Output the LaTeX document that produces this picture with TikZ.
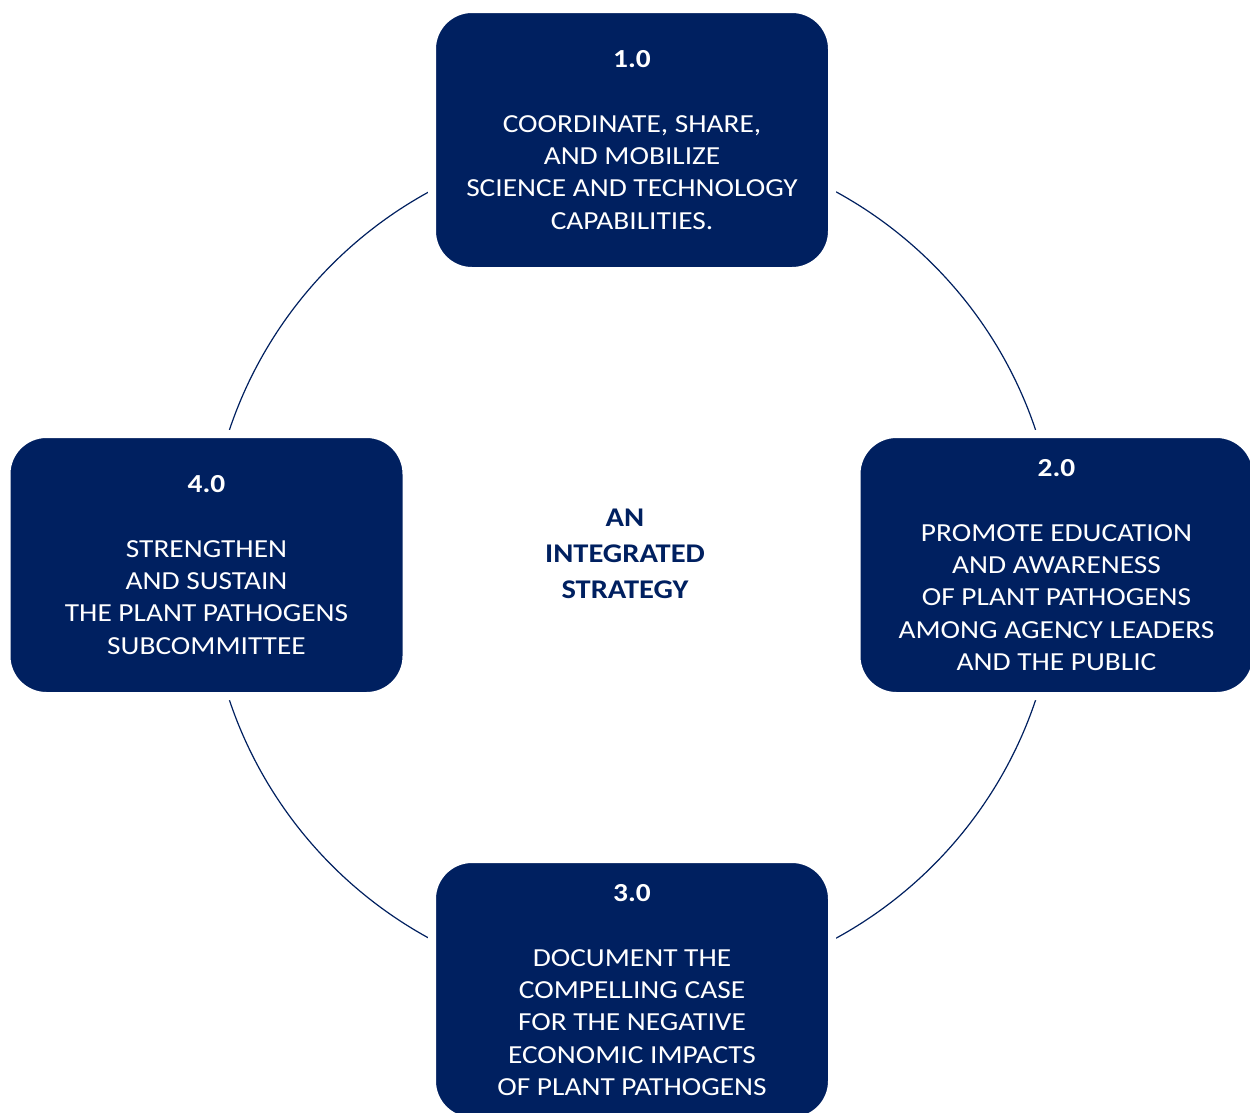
\documentclass[tikz,border=0pt]{standalone}
\usepackage{fontspec}
\setmainfont{Carlito}[FakeStretch=1.13]
\definecolor{navy}{RGB}{0,32,96}
\tikzset{
  goalbox/.style={rectangle, rounded corners=40pt, fill=navy, draw=white, line width=8pt,
    minimum width=400pt, minimum height=262pt, text=white, align=center, inner sep=0pt,
    font=\fontsize{26}{32.3}\selectfont},
  ring/.style={draw=navy, line width=1.2pt},
  centre/.style={text=navy, align=center, font=\bfseries\fontsize{27}{36}\selectfont}
}
\begin{document}
\begin{tikzpicture}[x=1pt,y=-1pt]
\clip (0,0) rectangle (1250,1112);
\fill[white] (0,0) rectangle (1250,1112);
\coordinate (c) at (632.5,565);
\draw[ring] (c) circle[radius=425pt];
\node[goalbox] (b1) at (632,140) {\textbf{1.0}\\[32.3pt]COORDINATE, SHARE,\\AND MOBILIZE\\SCIENCE AND TECHNOLOGY\\CAPABILITIES.};
\node[goalbox] (b2) at (1056.5,565) {\textbf{2.0}\\[32.3pt]PROMOTE EDUCATION\\AND AWARENESS\\OF PLANT PATHOGENS\\AMONG AGENCY LEADERS\\AND THE PUBLIC};
\node[goalbox] (b3) at (632,990) {\textbf{3.0}\\[32.3pt]DOCUMENT THE\\COMPELLING CASE\\FOR THE NEGATIVE\\ECONOMIC IMPACTS\\OF PLANT PATHOGENS};
\node[goalbox] (b4) at (206.5,565) {\textbf{4.0}\\[32.3pt]STRENGTHEN\\AND SUSTAIN\\THE PLANT PATHOGENS\\SUBCOMMITTEE};
\node[centre] (mid) at (625,554) {AN\\INTEGRATED\\STRATEGY};
\end{tikzpicture}
\end{document}
